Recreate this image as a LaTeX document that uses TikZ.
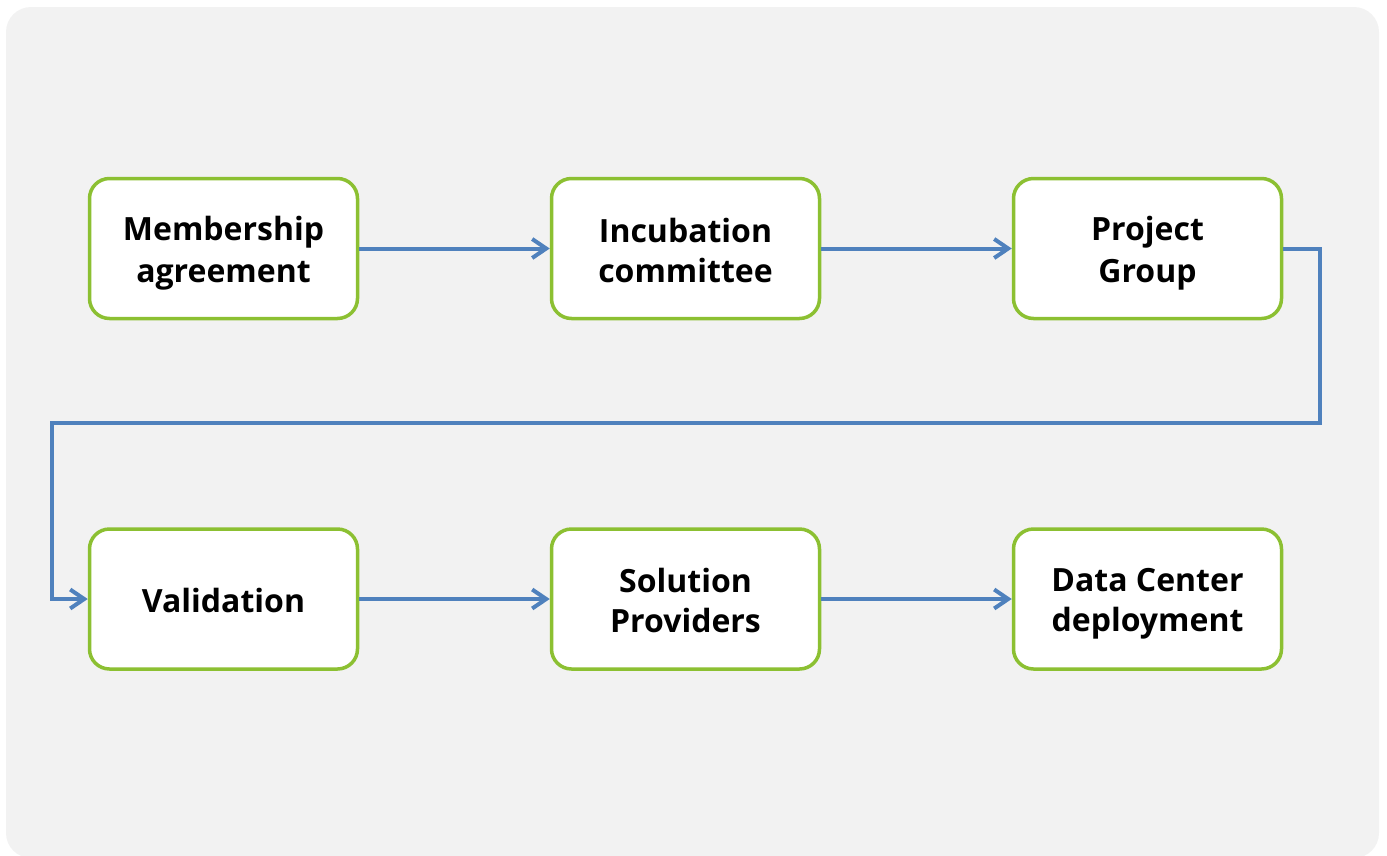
\documentclass[tikz,border=0pt]{standalone}
\usepackage{fontspec}
\setmainfont{Open Sans}
\usetikzlibrary{arrows.meta}
\definecolor{bgc}{RGB}{242,242,242}
\definecolor{boxg}{RGB}{140,192,50}
\definecolor{lineb}{RGB}{79,129,189}
\newcommand\lstrut{\rule[-6.5pt]{0pt}{40pt}}
\begin{document}
\begin{tikzpicture}[x=1pt,y=-1pt,
  stepbox/.style={draw=boxg, line width=3.5pt, fill=white, rounded corners=20pt,
    minimum width=268pt, minimum height=140pt, align=center,
    font=\fontsize{32}{40}\selectfont\bfseries, text=black},
  flow/.style={draw=lineb, line width=4pt, -{Straight Barb[length=14pt,width=19pt,line width=4pt]}}]
\useasboundingbox (0,0) rectangle (1387,855);
\fill[bgc, rounded corners=25pt] (6,7) rectangle (1379,858);
\node[stepbox] (mem) at (223.5,248.5) {\lstrut Membership\\\lstrut agreement};
\node[stepbox] (inc) at (685.5,248.5) {\lstrut Incubation\\\lstrut committee};
\node[stepbox] (pg)  at (1147.5,248.5) {\lstrut Project\\\lstrut Group};
\node[stepbox] (val) at (223.5,599) {\lstrut Validation};
\node[stepbox] (sol) at (685.5,599) {\lstrut Solution\\\lstrut Providers};
\node[stepbox] (dc)  at (1147.5,599) {\lstrut Data Center\\\lstrut deployment};
\coordinate (r1) at (1320,248.5);
\coordinate (r2) at (1320,423);
\coordinate (l1) at (52,423);
\draw[flow] (mem) -- (inc);
\draw[flow] (inc) -- (pg);
\draw[flow, line join=miter] (pg.east) -- (r1) -- (r2) -- (l1) |- (val.west);
\draw[flow] (val) -- (sol);
\draw[flow] (sol) -- (dc);
\end{tikzpicture}
\end{document}
